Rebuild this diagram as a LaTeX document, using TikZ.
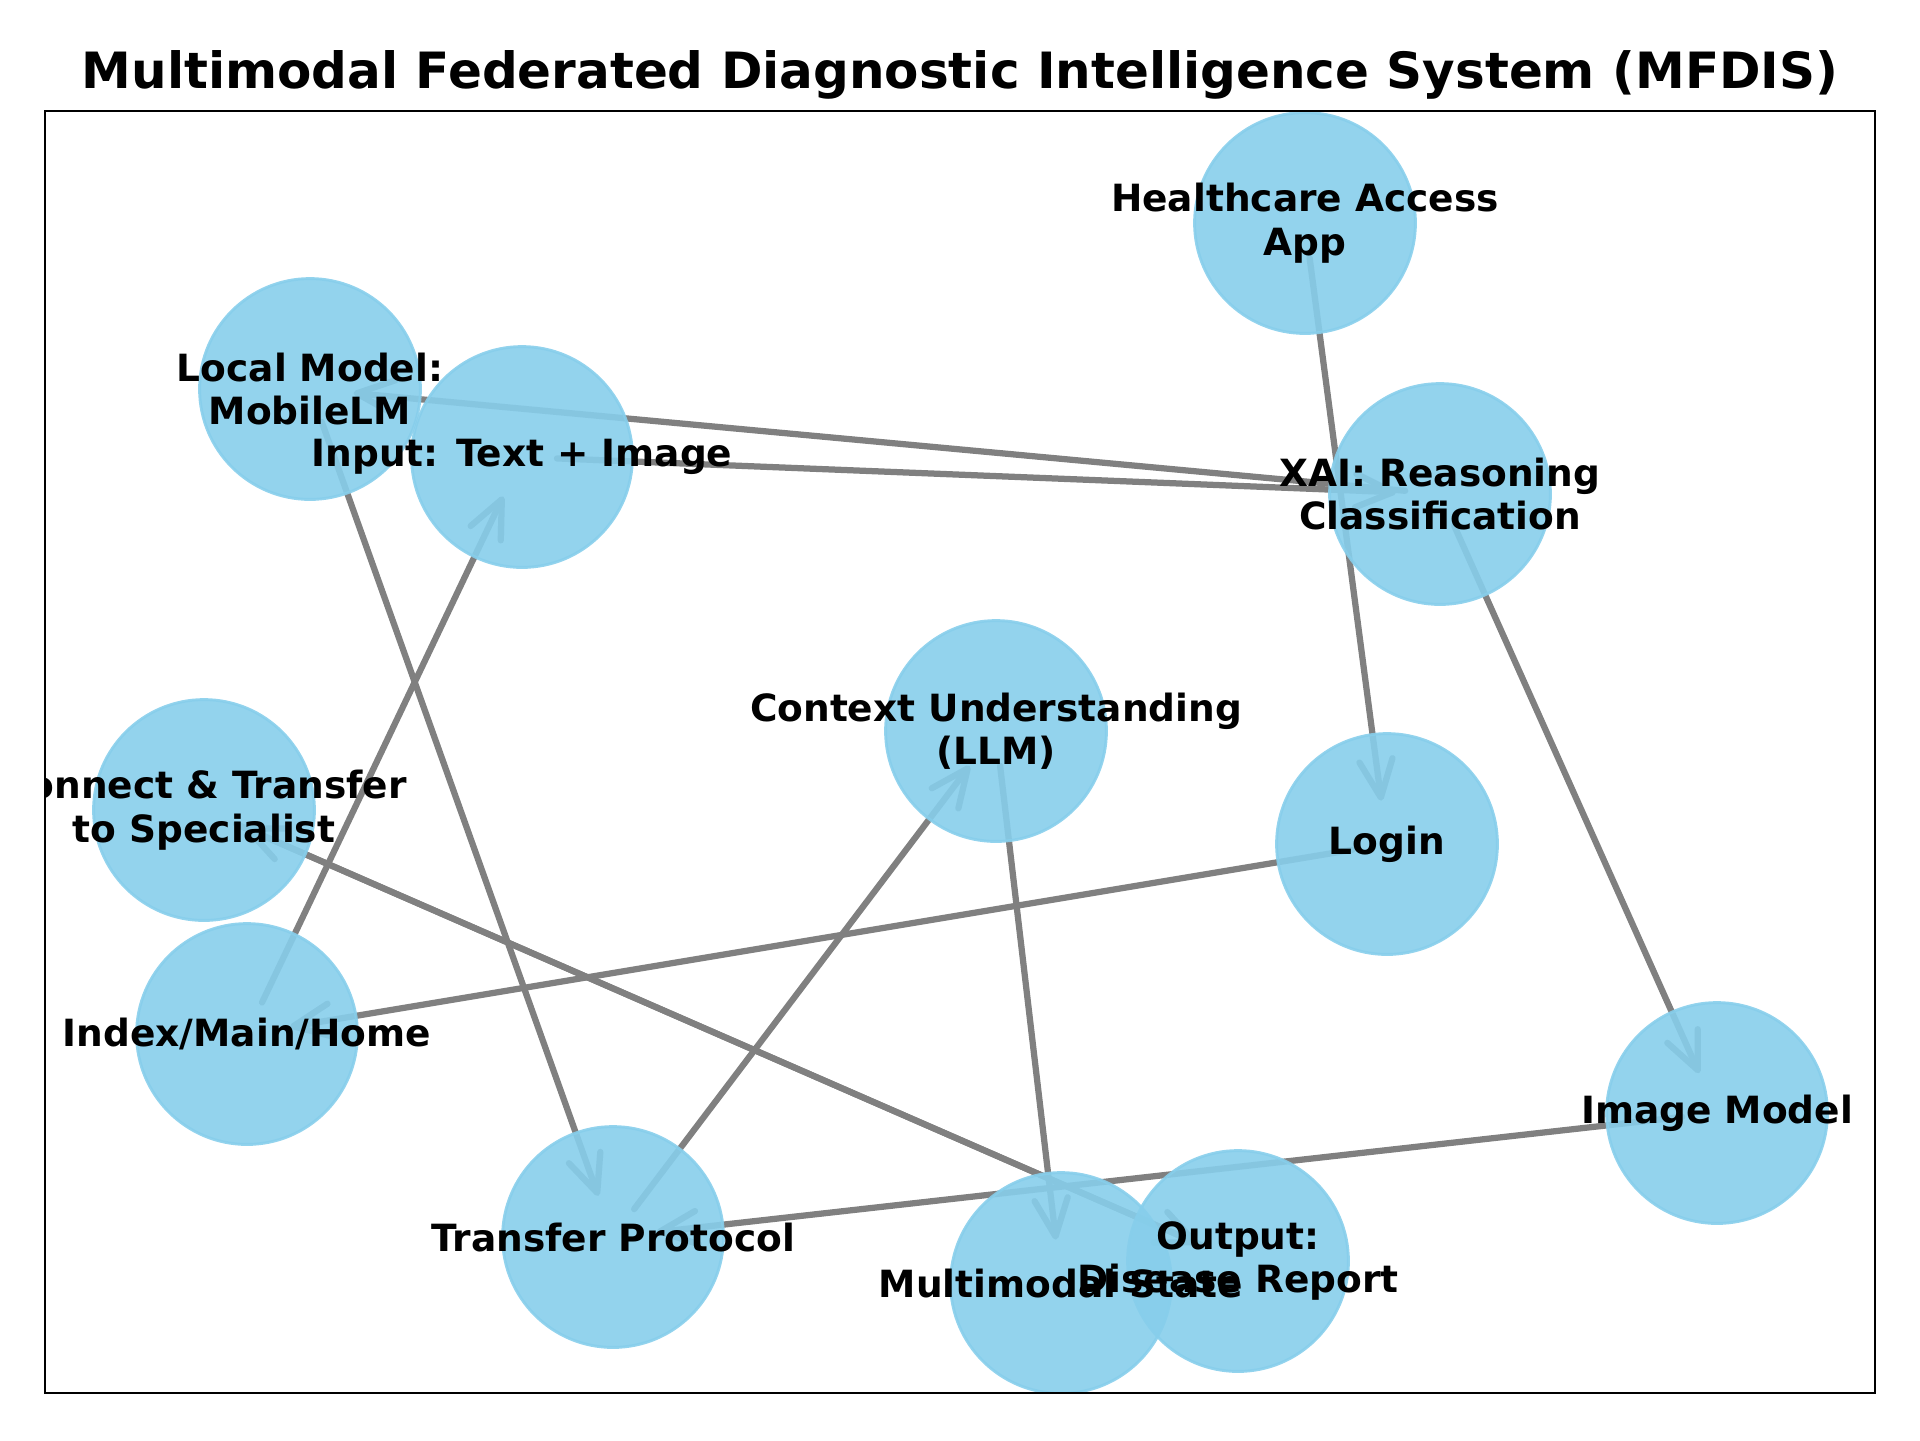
\documentclass[tikz,border=0pt]{standalone}
\usepackage{fontspec}
\setmainfont{DejaVu Sans}
\usetikzlibrary{arrows.meta,backgrounds}
\definecolor{skyblue}{HTML}{87CEEB}

\begin{document}
\begin{tikzpicture}[x=0.24pt, y=-0.24pt, >={Straight Barb[length=9pt,width=8pt,round]},
  state/.style={circle, draw=skyblue, fill=skyblue, opacity=0.9, line width=0.7pt, minimum size=53pt, inner sep=0pt},
  lbl/.style={align=center, font=\bfseries\fontsize{9}{10.4}\selectfont},
  link/.style={->, draw=gray, line width=1.5pt, line cap=round, shorten <=8.4pt, shorten >=10.5pt}]

\useasboundingbox (0,0) rectangle (1920,1440);

% Title
\node[font=\bfseries\fontsize{12}{14}\selectfont, anchor=base] (title) at (960,88)
  {Multimodal Federated Diagnostic Intelligence System (MFDIS)};

\begin{scope}
\clip (45,111) rectangle (1875,1393);

% Nodes
\node[state] (hca) at (1305,223) {};
\node[state] (lmm) at (310,389) {};
\node[state] (inp) at (522,457) {};
\node[state] (xai) at (1440,494) {};
\node[state] (ctx) at (996,731) {};
\node[state] (cts) at (204,810) {};
\node[state] (login) at (1387,844) {};
\node[state] (idx) at (247,1034) {};
\node[state] (img) at (1717,1113) {};
\node[state] (tp) at (613,1237) {};
\node[state] (mms) at (1061,1283) {};
\node[state] (out) at (1238,1261) {};

% Labels
\node[lbl] at (hca) {Healthcare Access\\App};
\node[lbl] at (lmm) {Local Model:\\MobileLM};
\node[lbl] at (inp) {Input: Text + Image};
\node[lbl] at (xai) {XAI: Reasoning\\Classification};
\node[lbl] at (ctx) {Context Understanding\\(LLM)};
\node[lbl] at (cts) {Connect \& Transfer\\to Specialist};
\node[lbl] at (login) {Login};
\node[lbl] at (idx) {Index/Main/Home};
\node[lbl] at (img) {Image Model};
\node[lbl] at (tp) {Transfer Protocol};
\node[lbl] at (mms) {Multimodal State};
\node[lbl] at (out) {Output:\\Disease Report};
\end{scope}

% Frame
\draw[line width=0.6pt] (45,111) rectangle (1875,1393);

% Connections
\begin{scope}[on background layer]
\draw[link] (hca.center) -- (login.center);
\draw[link] (xai.center) -- (lmm.center);
\draw[link] (inp.center) -- (xai.center);
\draw[link] (xai.center) -- (img.center);
\draw[link] (lmm.center) -- (tp.center);
\draw[link] (idx.center) -- (inp.center);
\draw[link] (login.center) -- (idx.center);
\draw[link] (tp.center) -- (ctx.center);
\draw[link] (ctx.center) -- (mms.center);
\draw[link] (img.center) -- (tp.center);
\draw[link] (cts.center) -- (out.center);
\draw[link] (out.center) -- (cts.center);
\end{scope}

\end{tikzpicture}
\end{document}
